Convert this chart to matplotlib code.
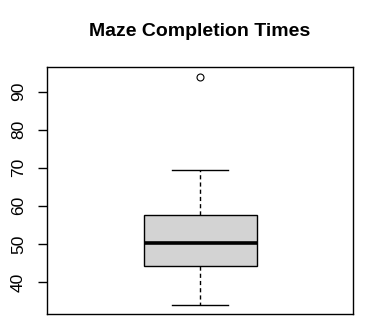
import matplotlib
matplotlib.use("Agg")
import matplotlib.pyplot as plt

# summary
whisker_low = 33.9
q1 = 44.1
median = 50.2
q3 = 57.6
whisker_high = 69.3
outliers = [94.0]
y_ticks = [40, 50, 60, 70, 80, 90]

plt.rcParams['font.family'] = ['Liberation Sans', 'DejaVu Sans']

fig = plt.figure(figsize=(3.73, 3.29), dpi=100)
ax = fig.add_axes([0.127, 0.045, 0.819, 0.750])

stats = [{'whislo': whisker_low, 'q1': q1, 'med': median, 'q3': q3,
          'whishi': whisker_high, 'fliers': outliers}]
ax.bxp(stats, positions=[1], widths=0.37, patch_artist=True,
       boxprops=dict(facecolor='#d3d3d3', edgecolor='black', linewidth=1),
       medianprops=dict(color='black', linewidth=2.6),
       whiskerprops=dict(color='black', linewidth=1, linestyle=(0, (3, 2.2))),
       capprops=dict(color='black', linewidth=1),
       capwidths=0.185,
       flierprops=dict(marker='o', markerfacecolor='none', markeredgecolor='black',
                       markersize=5, markeredgewidth=0.8))

ax.set_xlim(0.5, 1.5)
ax.set_ylim(31.5, 96.4)
ax.set_xticks([])
ax.set_yticks(y_ticks)
ax.set_yticklabels([str(t) for t in y_ticks], rotation=90, va='center', fontsize=12.5)
ax.tick_params(axis='y', length=6.5, width=1, pad=9)
for s in ax.spines.values():
    s.set_linewidth(1)

fig.text(0.536, 0.905, 'Maze Completion Times', ha='center', va='center',
         fontsize=14, fontweight='bold')

fig.savefig('out.png', dpi=100)
